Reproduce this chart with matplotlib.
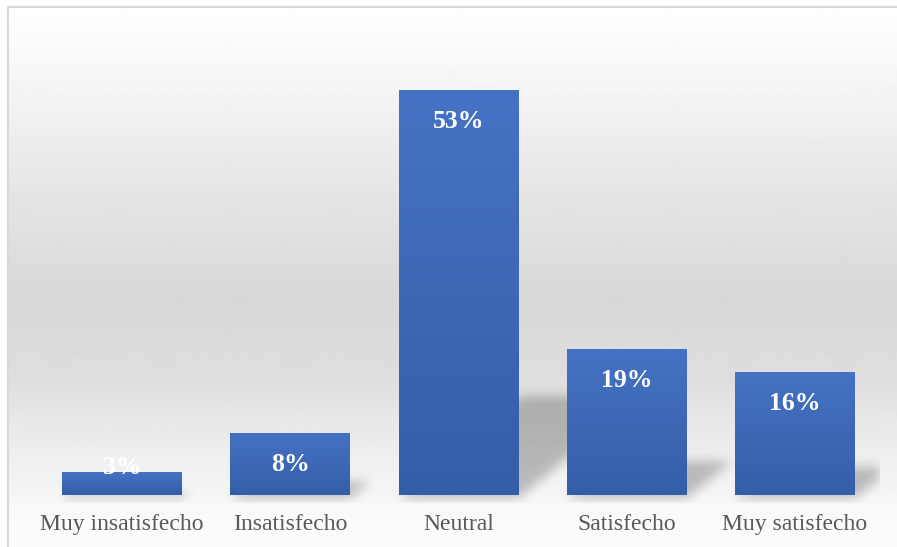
import numpy as np
import matplotlib.pyplot as plt
from matplotlib.colors import LinearSegmentedColormap

categories = ["Muy insatisfecho", "Insatisfecho", "Neutral", "Satisfecho", "Muy satisfecho"]
values = [3, 8, 53, 19, 16]
labels = ["3%", "8%", "53%", "19%", "16%"]

W, H, DPI = 897, 547, 100
plt.rcParams['font.family'] = ['Liberation Serif', 'DejaVu Serif']

fig = plt.figure(figsize=(W / DPI, H / DPI), dpi=DPI)
fig.patch.set_facecolor('white')


def px_rect(x0, y0, x1, y1):
    # pixel box (top-left origin) -> figure fraction rect
    return [x0 / W, (H - y1) / H, (x1 - x0) / W, (y1 - y0) / H]


# chart area background: light grey band fading to white top and bottom
bg = fig.add_axes(px_rect(8, 7, W + 2, H + 2))
bg.set_axis_off()
rows = np.arange(7, H + 2)
stops_y = [7, 100, 200, 300, 380, 450, 520, 549]
stops_v = [255, 243, 228, 216, 222, 238, 250, 252]
shade = np.interp(rows, stops_y, stops_v) / 255.0
bg.imshow(np.repeat(shade[:, None], 2, axis=1), cmap='gray', vmin=0, vmax=1,
          aspect='auto', extent=(0, 1, 0, 1), interpolation='bilinear')
bg.set_xlim(0, 1)
bg.set_ylim(0, 1)
bg.plot([0, 0], [0, 1], color='#d9d9d9', lw=1.5, transform=bg.transAxes, clip_on=False)
bg.plot([0, 1], [1, 1], color='#d9d9d9', lw=1.5, transform=bg.transAxes, clip_on=False)

ax = fig.add_axes(px_rect(38, 37, 879, 495))
ax.set_facecolor('none')
for s in ax.spines.values():
    s.set_visible(False)

x = np.arange(len(categories))
bw = 0.713
bars = ax.bar(x, values, width=bw, color='#3d69b8', zorder=3)
ax.set_xlim(-0.5, len(categories) - 0.5)
ax.set_ylim(0, 60)

# soft perspective shadows cast up and to the right behind each bar
ax_w, ax_h = 841, 458
ppx = ax_w / 5.0          # pixels per category
ppy = ax_h / 60.0         # pixels per percent
pad = 8
gw, gh = ax_w, ax_h + pad
mask = np.zeros((gh, gw))
yy = np.arange(gh)[:, None]
xx = np.arange(gw)[None, :]
for b in bars:
    bx0 = (b.get_x() + 0.5) * ppx
    bx1 = bx0 + b.get_width() * ppx
    hpx = b.get_height() * ppy
    sh_h = 0.25 * hpx
    sh_dx = 0.30 * hpx
    t = (gh - pad - yy) + 2  # height above baseline in px
    frac = np.clip(t / max(sh_h, 1), 0, 1)
    inside = (t >= 0) & (t <= sh_h) & (xx >= bx0 + sh_dx * frac) & (xx <= bx1 + sh_dx * frac)
    mask = np.maximum(mask, inside.astype(float))


def blur(a, sigma):
    r = int(3 * sigma)
    k = np.exp(-0.5 * (np.arange(-r, r + 1) / sigma) ** 2)
    k /= k.sum()
    a = np.apply_along_axis(lambda v: np.convolve(v, k, mode='same'), 0, a)
    a = np.apply_along_axis(lambda v: np.convolve(v, k, mode='same'), 1, a)
    return a


mask = blur(mask, 5.5)
shadow = np.zeros((gh, gw, 4))
shadow[..., 3] = mask * 0.24
ax.imshow(shadow, extent=(-0.5, 4.5, -pad / ppy, 60), aspect='auto',
          zorder=2, clip_on=False, interpolation='bilinear')

# vertical blue gradient on every bar
bar_cmap = LinearSegmentedColormap.from_list('barblue', ['#355ea8', '#4572c4'])
grad = np.linspace(0, 1, 256)[:, None]
for b in bars:
    x0 = b.get_x()
    ax.imshow(grad, cmap=bar_cmap, origin='lower', aspect='auto', zorder=3.5,
              extent=(x0, x0 + b.get_width(), 0, b.get_height()))
ax.set_xlim(-0.5, len(categories) - 0.5)
ax.set_ylim(0, 60)

# labels sit inside the bar top; short bars push them up off the baseline
for b, lab in zip(bars, labels):
    h_pt = b.get_height() * ppy * 72 / DPI
    dy = max(-14, 28 - h_pt)
    ax.annotate(lab, (b.get_x() + b.get_width() / 2, b.get_height()),
                xytext=(0, dy), textcoords='offset points', ha='center', va='top',
                color='white', fontsize=18.5, fontweight='bold', zorder=5)

ax.set_yticks([])
ax.set_xticks(x)
ax.set_xticklabels(categories, fontsize=17, color='#595959')
ax.tick_params(axis='x', length=0, pad=13.5)

fig.savefig('out.png', dpi=DPI)
